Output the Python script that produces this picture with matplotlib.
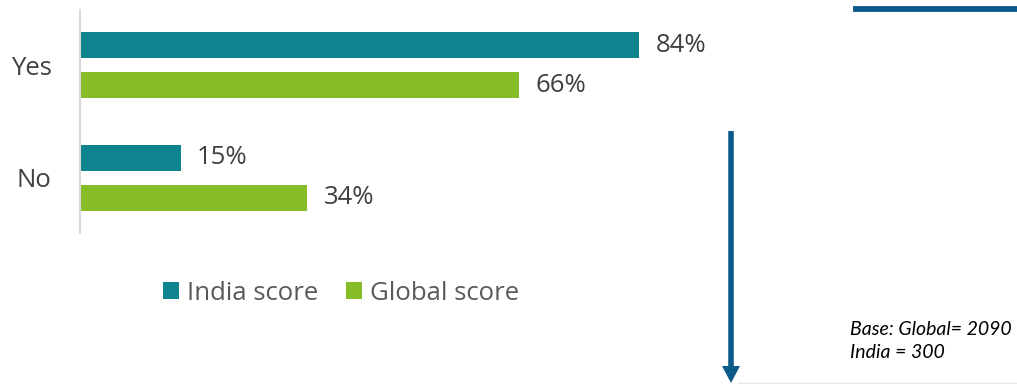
import numpy as np
import matplotlib.pyplot as plt
from matplotlib.lines import Line2D
from matplotlib.patches import Polygon

# survey answers and scores (%)
answers = ["Yes", "No"]
india_score = [84, 15]
global_score = [66, 34]
series_names = ["India score", "Global score"]
base_note = "Base: Global= 2090\nIndia = 300"

teal = "#0F838E"
green = "#86BC25"
navy = "#0B5A8A"
txt = "#404040"

plt.rcParams['font.family'] = ['Open Sans', 'DejaVu Sans']

W, H = 1017, 384
fig = plt.figure(figsize=(W / 100, H / 100), dpi=100)
ax = fig.add_axes([81 / W, 151 / H, 664 / W, 223 / H])

y = np.arange(len(answers))
off = 0.178
h = 0.235
b1 = ax.barh(y - off, india_score, height=h, color=teal, label=series_names[0])
b2 = ax.barh(y + off, global_score, height=h, color=green, label=series_names[1])

for bars, vals in ((b1, india_score), (b2, global_score)):
    for bar, v in zip(bars, vals):
        ax.text(v + 2.5, bar.get_y() + bar.get_height() / 2, f"{v}%",
                va="center", ha="left", fontsize=18.5, color=txt)

ax.set_xlim(0, 100)
ax.set_ylim(1.49, -0.49)
for s in ["top", "right", "bottom"]:
    ax.spines[s].set_visible(False)
ax.spines["left"].set_color("#D9D9D9")
ax.spines["left"].set_linewidth(1.5)
ax.spines["left"].set_position(("outward", 1))
ax.set_xticks([])
ax.set_yticks(y)
ax.set_yticklabels(answers)
ax.tick_params(axis="y", length=0, pad=20, labelsize=18.5, labelcolor=txt)

leg = fig.legend(handles=[b1, b2], loc="center", bbox_to_anchor=(341 / W, 1 - 293 / H),
                 ncol=2, frameon=False, fontsize=18.5, handlelength=0.62, handleheight=0.62,
                 handletextpad=0.3, columnspacing=1.1)
for t in leg.get_texts():
    t.set_color("#595959")

# decorative rules and down arrow
fig.add_artist(Line2D([856 / W, 1.0], [1 - 9 / H, 1 - 9 / H], color=navy, lw=4.2))
fig.add_artist(Line2D([738 / W, 1.0], [1 - 383 / H, 1 - 383 / H], color="#E6E6E6", lw=1))
fig.add_artist(Line2D([731 / W, 731 / W], [1 - 131 / H, 1 - 368 / H], color=navy, lw=4,
                      solid_capstyle="butt"))
fig.add_artist(Polygon([(722 / W, 1 - 366 / H), (740 / W, 1 - 366 / H), (731 / W, 1 - 383 / H)],
                       closed=True, transform=fig.transFigure, facecolor=navy, lw=0))

fig.text(850 / W, 1 - 341 / H, base_note, fontsize=14, style="italic",
         family=["Lato", "DejaVu Sans"], color="#000000", va="center", ha="left", linespacing=1.4)

fig.savefig("out.png", dpi=100)
